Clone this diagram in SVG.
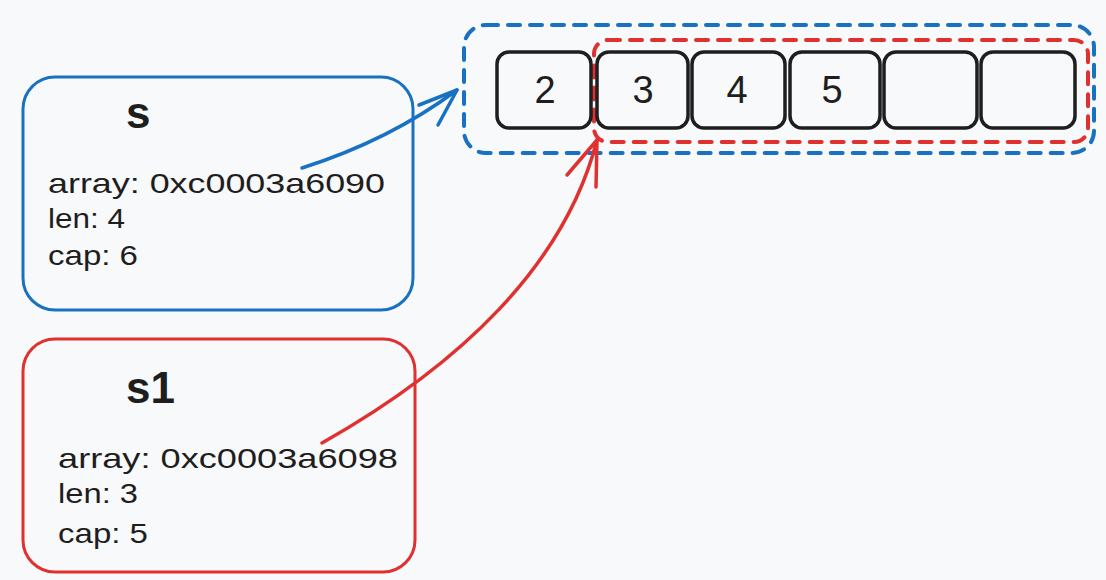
<svg xmlns="http://www.w3.org/2000/svg" width="1106" height="580" viewBox="0 0 1106 580">
<defs>
<style>
.bg{fill:#f8f9fa}
.box{fill:none;stroke-width:3;stroke-linecap:round;stroke-linejoin:round}
.blue{stroke:#1971c2}
.red{stroke:#e03131}
.cell{fill:none;stroke:#1e1e1e;stroke-width:3.5}
.dash{fill:none;stroke-width:4;stroke-dasharray:12 10;stroke-linecap:round}
.title{font-family:"Liberation Sans",Arial,sans-serif;font-size:44px;font-weight:bold;fill:#1e1e1e}
.body{font-family:"Liberation Sans",Arial,sans-serif;font-size:28px;fill:#1e1e1e}
.num{font-family:"Liberation Sans",Arial,sans-serif;font-size:38px;fill:#1e1e1e;text-anchor:middle}
.arrow{fill:none;stroke-width:3.5;stroke-linecap:round;stroke-linejoin:round}
</style>
</defs>
<rect class="bg" x="0" y="0" width="1106" height="580"/>

<g id="slice-s">
<rect class="box blue" x="23" y="77" width="390" height="233" rx="32"/>
<text class="title" x="126" y="128">s</text>
<text class="body" x="48" y="193" textLength="337" lengthAdjust="spacingAndGlyphs">array: 0xc0003a6090</text>
<text class="body" x="48" y="228" textLength="77" lengthAdjust="spacingAndGlyphs">len: 4</text>
<text class="body" x="48" y="265" textLength="90" lengthAdjust="spacingAndGlyphs">cap: 6</text>
</g>

<g id="slice-s1">
<rect class="box red" x="23" y="339" width="392" height="233" rx="32"/>
<text class="title" x="126" y="403">s1</text>
<text class="body" x="58" y="468" textLength="340" lengthAdjust="spacingAndGlyphs">array: 0xc0003a6098</text>
<text class="body" x="58" y="503" textLength="80" lengthAdjust="spacingAndGlyphs">len: 3</text>
<text class="body" x="58" y="543" textLength="90" lengthAdjust="spacingAndGlyphs">cap: 5</text>
</g>

<g id="array">
<rect class="dash blue" x="464" y="25" width="630" height="128" rx="22"/>
<rect class="dash red" x="594" y="40" width="494" height="102" rx="14"/>
<g id="cell0"><rect class="cell" x="497" y="52" width="94" height="76" rx="12"/><text class="num" x="545" y="103">2</text></g>
<g id="cell1"><rect class="cell" x="597" y="52" width="91" height="76" rx="12"/><text class="num" x="643" y="103">3</text></g>
<g id="cell2"><rect class="cell" x="692" y="52" width="93" height="76" rx="12"/><text class="num" x="737" y="103">4</text></g>
<g id="cell3"><rect class="cell" x="790" y="52" width="90" height="76" rx="12"/><text class="num" x="832" y="103">5</text></g>
<g id="cell4"><rect class="cell" x="884" y="52" width="93" height="76" rx="12"/></g>
<g id="cell5"><rect class="cell" x="981" y="52" width="94" height="76" rx="12"/></g>
</g>

<g id="connectors">
<path class="arrow blue" d="M302 168 Q390 140 457 90"/>
<path class="arrow blue" d="M419 105 L457 90 L438 125"/>
<path class="arrow red" d="M322 443 C460 365 565 265 597 140"/>
<path class="arrow red" d="M567 175 L597 140 L596 187"/>
</g>
</svg>
